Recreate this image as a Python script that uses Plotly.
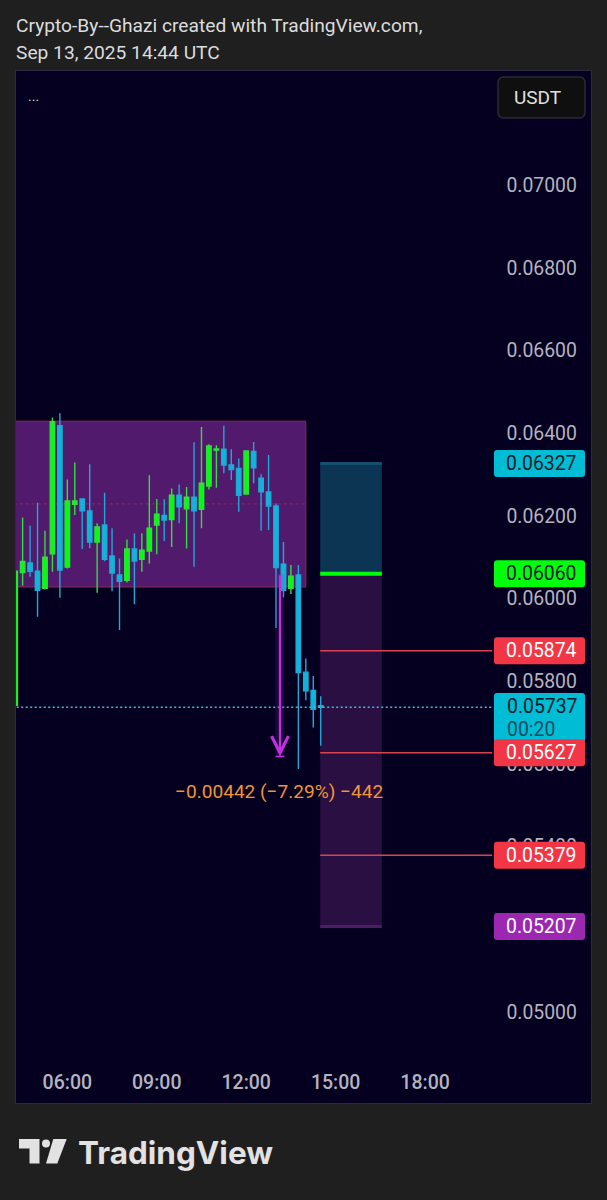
import plotly.graph_objects as go
import pandas as pd

W, H = 607, 1200

# 15 minute candles, Sep 13 2025
times = pd.date_range("2025-09-13 04:15", periods=42, freq="15min")
opens = [0.05742, 0.06063, 0.06086, 0.06066, 0.06025, 0.06108, 0.06418, 0.06076, 0.06228, 0.06241, 0.06212,
         0.06137, 0.06178, 0.06103, 0.06057, 0.06044, 0.06120, 0.06095, 0.06115, 0.06178, 0.06201, 0.06191,
         0.06250, 0.06217, 0.06245, 0.06216, 0.06272, 0.06359, 0.06361, 0.06323, 0.06315, 0.06253, 0.06356,
         0.06291, 0.06258, 0.06224, 0.06083, 0.06025, 0.06057, 0.05822, 0.05778, 0.05741]
highs = [0.06080, 0.06196, 0.06176, 0.06232, 0.06164, 0.06438, 0.06448, 0.06288, 0.06329, 0.06242, 0.06325,
         0.06182, 0.06256, 0.06170, 0.06097, 0.06143, 0.06158, 0.06158, 0.06298, 0.06241, 0.06240, 0.06266,
         0.06276, 0.06270, 0.06378, 0.06415, 0.06373, 0.06371, 0.06418, 0.06361, 0.06339, 0.06357, 0.06379,
         0.06301, 0.06347, 0.06230, 0.06137, 0.06081, 0.06081, 0.05855, 0.05813, 0.05764]
lows = [0.05735, 0.06031, 0.06053, 0.05956, 0.06022, 0.06065, 0.06002, 0.06073, 0.06202, 0.06120, 0.06122,
        0.06014, 0.06090, 0.06018, 0.05924, 0.06039, 0.05986, 0.06065, 0.06085, 0.06107, 0.06139, 0.06125,
        0.06182, 0.06121, 0.06077, 0.06170, 0.06264, 0.06268, 0.06303, 0.06287, 0.06210, 0.06252, 0.06279,
        0.06164, 0.06166, 0.05929, 0.06003, 0.06011, 0.05588, 0.05754, 0.05688, 0.05644]
closes = [0.06066, 0.06090, 0.06066, 0.06020, 0.06100, 0.06428, 0.06069, 0.06236, 0.06236, 0.06212, 0.06137,
          0.06173, 0.06095, 0.06062, 0.06042, 0.06120, 0.06091, 0.06117, 0.06170, 0.06204, 0.06190, 0.06250,
          0.06222, 0.06245, 0.06212, 0.06279, 0.06369, 0.06362, 0.06323, 0.06312, 0.06250, 0.06357, 0.06316,
          0.06258, 0.06224, 0.06075, 0.06020, 0.06054, 0.05821, 0.05777, 0.05732, 0.05737]

price_ticks = [0.05000, 0.05200, 0.05400, 0.05600, 0.05800, 0.06000, 0.06200, 0.06400, 0.06600, 0.06800, 0.07000]

# range box
box_start, box_end = "2025-09-13 04:00", "2025-09-13 14:00"
box_top, box_mid, box_bottom = 0.06429, 0.06229, 0.06028

# position tool
pos_start, pos_end = "2025-09-13 14:29", "2025-09-13 16:33"
stop_price, entry_price, final_target = 0.06327, 0.06060, 0.05207
targets = [0.05874, 0.05627, 0.05379]
target_end = "2025-09-13 20:15"

last_price = 0.05737
last_label = "00:20"

# measure arrow
measure_time = "2025-09-13 13:08"
measure_left, measure_right = "2025-09-13 12:59", "2025-09-13 13:17"
measure_from, measure_to = 0.06060, 0.05618
measure_text = "−0.00442 (−7.29%) −442"

PAGE_BG = "#1f1f1f"
CHART_BG = "#05001f"
GREEN = "#00ff0a"
BLUE = "#0fb6d8"
RED = "#f23645"
PURPLE = "#c22fe0"
FONT = "Roboto"

Y_MIN, Y_MAX = 0.0478, 0.07276
PLOT_TOP, PLOT_BOTTOM = 71, 1103


def px(x):
    return x / W


def py(y):
    return 1 - y / H


def price_y(p):
    return PLOT_TOP + (Y_MAX - p) / (Y_MAX - Y_MIN) * (PLOT_BOTTOM - PLOT_TOP)


def rounded_box(x0, y0, x1, y1, r, fill, border=None):
    path = (f"M{px(x0 + r)},{py(y0)} L{px(x1 - r)},{py(y0)} Q{px(x1)},{py(y0)} {px(x1)},{py(y0 + r)} "
            f"L{px(x1)},{py(y1 - r)} Q{px(x1)},{py(y1)} {px(x1 - r)},{py(y1)} "
            f"L{px(x0 + r)},{py(y1)} Q{px(x0)},{py(y1)} {px(x0)},{py(y1 - r)} "
            f"L{px(x0)},{py(y0 + r)} Q{px(x0)},{py(y0)} {px(x0 + r)},{py(y0)} Z")
    line = dict(color=border, width=1.5) if border else dict(width=0)
    return dict(type="path", xref="paper", yref="paper", path=path, fillcolor=fill, line=line, layer="above")


fig = go.Figure()

fig.add_trace(go.Candlestick(
    x=times, open=opens, high=highs, low=lows, close=closes,
    increasing=dict(line=dict(color="#2fe03a", width=1.4), fillcolor=GREEN),
    decreasing=dict(line=dict(color="#1fa8d8", width=1.4), fillcolor=BLUE),
    whiskerwidth=0, showlegend=False, hoverinfo="skip",
))

shapes = [
    # range box
    dict(type="rect", xref="x", yref="y", x0=box_start, x1=box_end, y0=box_bottom, y1=box_top,
         fillcolor="#521a6c", line=dict(color="#8a2a50", width=1), layer="below"),
    dict(type="line", xref="x", yref="y", x0=box_start, x1=box_end, y0=box_mid, y1=box_mid,
         line=dict(color="#8a2a60", width=1, dash="dot"), layer="below"),
    # position tool
    dict(type="rect", xref="x", yref="y", x0=pos_start, x1=pos_end, y0=entry_price, y1=stop_price,
         fillcolor="#0c3553", line=dict(width=0), layer="below"),
    dict(type="rect", xref="x", yref="y", x0=pos_start, x1=pos_end, y0=final_target, y1=entry_price,
         fillcolor="#2a0f42", line=dict(width=0), layer="below"),
    dict(type="line", xref="x", yref="y", x0=pos_start, x1=pos_end, y0=stop_price, y1=stop_price,
         line=dict(color="#14506e", width=3)),
    dict(type="line", xref="x", yref="y", x0=pos_start, x1=pos_end, y0=final_target, y1=final_target,
         line=dict(color="#4a1f66", width=3)),
    dict(type="line", xref="x", yref="y", x0=pos_start, x1=pos_end, y0=entry_price, y1=entry_price,
         line=dict(color=GREEN, width=4)),
    # last price
    dict(type="line", xref="x", yref="y", x0=box_start, x1=target_end, y0=last_price, y1=last_price,
         line=dict(color="#45bcd6", width=1.5, dash="2px,2.5px")),
    # measure arrow base
    dict(type="rect", xref="x", yref="y", x0=measure_left, x1=measure_right, y0=measure_to, y1=measure_from,
         fillcolor="rgba(150,40,200,0.18)", line=dict(width=0)),
    dict(type="line", xref="x", yref="y", x0=measure_left, x1=measure_right, y0=measure_to, y1=measure_to,
         line=dict(color=PURPLE, width=1.5)),
    # logo
    dict(type="path", xref="paper", yref="paper", line=dict(width=0), fillcolor="#e2e2e2",
         path=f"M{px(19)},{py(1139)} L{px(39.5)},{py(1139)} L{px(39.5)},{py(1163.5)} L{px(29.5)},{py(1163.5)} "
              f"L{px(29.5)},{py(1148.5)} L{px(19)},{py(1148.5)} Z"),
    dict(type="path", xref="paper", yref="paper", line=dict(width=0), fillcolor="#e2e2e2",
         path=f"M{px(53.3)},{py(1139)} L{px(66.7)},{py(1139)} L{px(57.3)},{py(1163.5)} L{px(46)},{py(1163.5)} Z"),
    dict(type="circle", xref="paper", yref="paper", line=dict(width=0), fillcolor="#e2e2e2",
         x0=px(42), x1=px(50), y0=py(1147.5), y1=py(1139.5)),
    # USDT button
    rounded_box(498, 77, 585, 118, 6, "#0f0f0f", "#2a2a38"),
]
for t in targets:
    shapes.append(dict(type="line", xref="x", yref="y", x0=pos_start, x1=target_end, y0=t, y1=t,
                       line=dict(color="#d9434f", width=1.5)))

annotations = []


def price_label(p, text, bg, color="#ffffff"):
    y = price_y(p)
    shapes.append(rounded_box(494, y - 13.5, 585, y + 13.5, 3, bg))
    annotations.append(dict(
        xref="paper", yref="paper", x=px(541), y=py(y), xanchor="center", yanchor="middle", text=text,
        showarrow=False, font=dict(family=FONT, size=19.4, color=color),
    ))


price_label(stop_price, "0.06327", "#00bcd4", "#0d1b2a")
price_label(entry_price, "0.06060", GREEN, "#0d1b2a")
price_label(targets[0], f"{targets[0]:.5f}", "#f23645")
# cyan last price box sits under the 0.05627 label
shapes.append(rounded_box(494, 693, 585, 743, 3, "#00bcd4"))
annotations.append(dict(xref="paper", yref="paper", x=px(505), y=py(707), xanchor="left", yanchor="middle",
                        text=f"{last_price:.5f}", showarrow=False, font=dict(family=FONT, size=19.4, color="#0d1b2a")))
annotations.append(dict(xref="paper", yref="paper", x=px(505), y=py(730), xanchor="left", yanchor="middle",
                        text=last_label, showarrow=False, font=dict(family=FONT, size=19.4, color="#0b4d60")))
price_label(targets[1], f"{targets[1]:.5f}", "#f23645")
price_label(targets[2], f"{targets[2]:.5f}", "#f23645")
price_label(final_target, "0.05207", "#9c27b0")

annotations += [
    dict(xref="x", yref="y", axref="x", ayref="y", x=measure_time, y=measure_to, ax=measure_time, ay=measure_from,
         text="", showarrow=True, arrowhead=5, arrowsize=1.5, arrowwidth=2.2, arrowcolor=PURPLE),
    dict(xref="x", yref="paper", x=measure_time, y=py(791), yanchor="middle", text=measure_text, showarrow=False,
         font=dict(family=FONT, size=19.1, color="#f0953a")),
    dict(xref="paper", yref="paper", x=px(13.5), y=py(25), xanchor="left", yanchor="middle", showarrow=False,
         text="Crypto-By--Ghazi created with TradingView.com,", font=dict(family=FONT, size=19.2, color="#dcdcdc")),
    dict(xref="paper", yref="paper", x=px(13.5), y=py(52), xanchor="left", yanchor="middle", showarrow=False,
         text="Sep 13, 2025 14:44 UTC", font=dict(family=FONT, size=19.2, color="#dcdcdc")),
    dict(xref="paper", yref="paper", x=px(26), y=py(96), xanchor="left", yanchor="middle", showarrow=False,
         text="...", font=dict(family=FONT, size=14, color="#d0d0d0")),
    dict(xref="paper", yref="paper", x=px(512), y=py(97.5), xanchor="left", yanchor="middle", showarrow=False,
         text="USDT", font=dict(family=FONT, size=19, color="#e0e0e0")),
    dict(xref="paper", yref="paper", x=px(76), y=py(1152), xanchor="left", yanchor="middle", showarrow=False,
         text="<b>TradingView</b>", font=dict(family="Inter", size=31.5, color="#e2e2e2")),
]

fig.update_layout(
    width=W, height=H,
    margin=dict(l=0, r=0, t=0, b=0),
    paper_bgcolor=PAGE_BG,
    plot_bgcolor=CHART_BG,
    shapes=shapes,
    annotations=annotations,
    boxgap=0.15,
    xaxis=dict(
        domain=[px(16), px(591)],
        type="date",
        range=["2025-09-13 04:16:40", "2025-09-13 23:34"],
        rangeslider=dict(visible=False),
        tickformat="%H:%M",
        tickvals=pd.date_range("2025-09-13 06:00", periods=5, freq="3h"),
        ticklabelposition="inside", ticks="", showgrid=False, zeroline=False,
        showline=True, mirror=True, linecolor="#2a2a40", ticklabelstandoff=11,
        tickfont=dict(family=FONT, size=19.5, color="#b4b4c0", weight=500),
    ),
    yaxis=dict(
        domain=[py(PLOT_BOTTOM), py(PLOT_TOP)],
        side="right",
        range=[Y_MIN, Y_MAX],
        tickvals=price_ticks, tickformat=".5f",
        ticklabelposition="inside", ticks="", showgrid=False, zeroline=False,
        showline=True, mirror=True, linecolor="#2a2a40", ticklabelstandoff=15,
        tickfont=dict(family=FONT, size=19.4, color="#b4b4c0"),
    ),
)

fig.write_html("out.html", config=dict(displayModeBar=False),
               post_script="document.body.style.margin='0';document.body.style.background='#1f1f1f';")
